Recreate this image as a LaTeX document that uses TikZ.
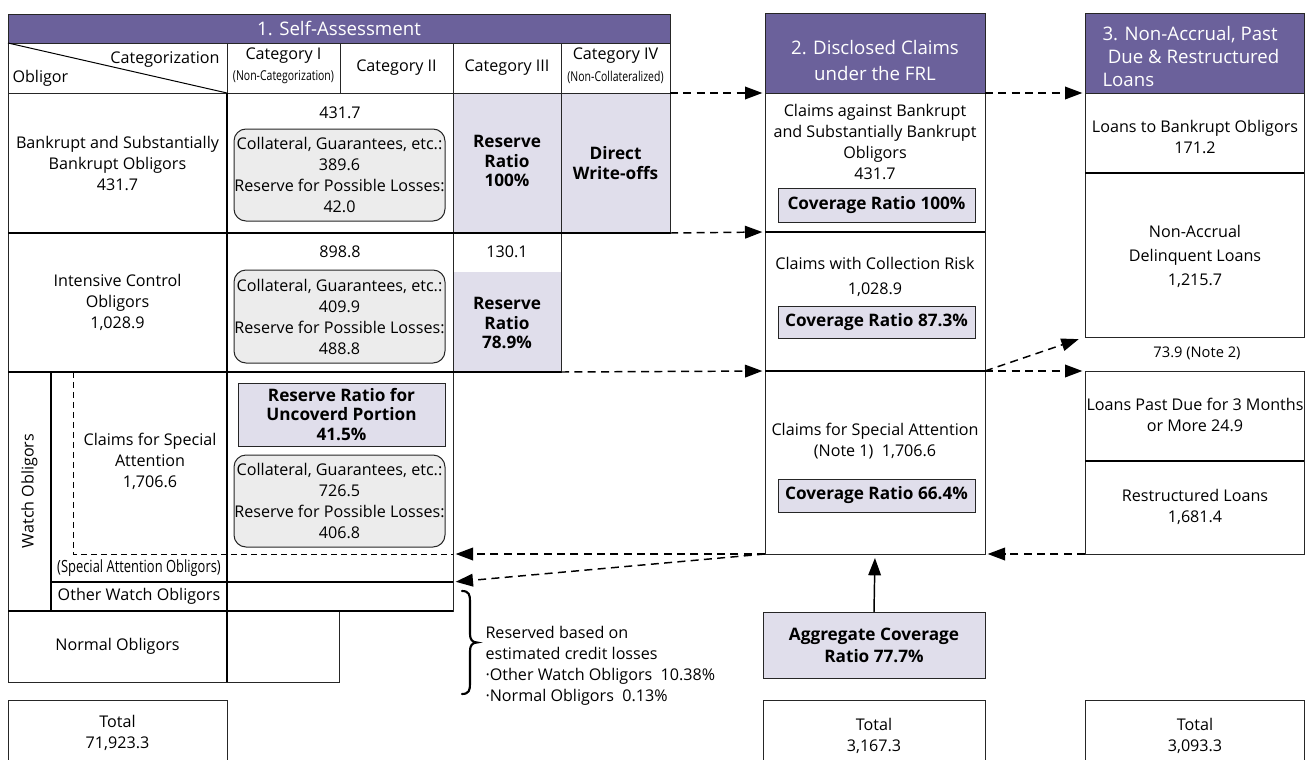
\documentclass[tikz,border=0pt]{standalone}
\usepackage{fontspec}
\setmainfont{Open Sans}
\newfontfamily\narrowfont[FakeStretch=0.77]{Open Sans}
\usetikzlibrary{arrows.meta}

\definecolor{hdrpurple}{RGB}{107,97,155}
\definecolor{paleviolet}{RGB}{224,222,235}
\definecolor{softgray}{RGB}{236,236,236}

\tikzset{every picture/.style={line width=0.75pt}}
\tikzset{
  cell/.style={draw=black!85, anchor=north west, inner sep=0pt, outer sep=0pt},
  shadecell/.style={cell, fill=paleviolet},
  hdrcell/.style={cell, fill=hdrpurple},
  roundcell/.style={cell, fill=softgray, rounded corners=9pt},
  txt/.style={align=center, inner sep=0pt, font=\fontsize{12.1}{15.75}\selectfont},
  boldtxt/.style={txt, font=\fontsize{12.9}{14.5}\selectfont\bfseries},
  hdrtxt/.style={align=center, inner sep=0pt, text=white, font=\fontsize{14}{19.5}\selectfont},
  smalltxt/.style={inner sep=0pt, font=\narrowfont\fontsize{10.2}{11}\selectfont},
  rule/.style={line width=2pt},
  link/.style={dash pattern=on 6pt off 4pt, line width=1.1pt, -{Triangle[length=13pt,width=9.5pt]}, shorten >=2pt}
}

\begin{document}
\begin{tikzpicture}[x=0.75pt,y=0.75pt,yscale=-1,xscale=1]
\useasboundingbox (0,0) rectangle (1306,760);
\begin{scope}
\clip (0,0) rectangle (1306,760);

%Shape: Rectangle -- 1. Self-Assessment
\node[hdrcell, minimum width=496.5pt, minimum height=21.75pt] (hdr1) at (8,14) {};
\node[hdrtxt] (hdr1t) at (339,28.5) {1. Self-Assessment};

%Shape: Rectangle -- category header row
\node[cell, minimum width=164.25pt, minimum height=37.5pt] (c0) at (8,43) {};
\node[cell, minimum width=84.75pt, minimum height=37.5pt] (c1) at (227,43) {};
\node[cell, minimum width=84.75pt, minimum height=37.5pt] (c2) at (340,43) {};
\node[cell, minimum width=81pt, minimum height=37.5pt] (c3) at (453,43) {};
\node[cell, minimum width=81.75pt, minimum height=37.5pt] (c4) at (561,43) {};
\draw (c0.north west) -- (c0.south east);
% Text Node
\node[txt, anchor=east] (catg) at (220,60) {Categorization};
\node[txt, anchor=west] (oblg) at (12,78) {Obligor};
\node[txt] (c1t) at (283.5,56) {Category I};
\node[smalltxt] (c1s) at (283.5,77) {(Non-Categorization)};
\node[txt] (c2t) at (396.5,68) {Category II};
\node[txt] (c3t) at (507,68) {Category III};
\node[txt] (c4t) at (615.5,56) {Category IV};
\node[smalltxt] (c4s) at (615.5,77) {(Non-Collateralized)};

%Shape: Rectangle -- bankrupt row
\node[cell, minimum width=164.25pt, minimum height=105pt] (r1c0) at (8,93) {};
\node[cell, minimum width=169.5pt, minimum height=105pt] (r1c12) at (227,93) {};
\node[shadecell, minimum width=81pt, minimum height=105pt] (r1c3) at (453,93) {};
\node[shadecell, minimum width=81.75pt, minimum height=105pt] (r1c4) at (561,93) {};
\node[roundcell, minimum width=158.25pt, minimum height=69pt] (rb1) at (234,129) {};
% Text Node
\node[txt] (r1c0t) at (117.5,163) {Bankrupt and Substantially\\Bankrupt Obligors\\431.7};
\node[txt] (r1amt) at (340,113) {431.7};
\node[txt] (rb1t) at (339.5,175) {Collateral, Guarantees, etc.:\\389.6\\Reserve for Possible Losses:\\42.0};
\node[boldtxt] (r1c3t) at (507,161) {Reserve\\Ratio\\100\%};
\node[boldtxt] (r1c4t) at (615.5,163) {Direct\\Write-offs};

%Shape: Rectangle -- intensive control row
\node[cell, minimum width=164.25pt, minimum height=104.25pt] (r2c0) at (8,233) {};
\node[cell, minimum width=169.5pt, minimum height=104.25pt] (r2c12) at (227,233) {};
\node[cell, draw=none, fill=paleviolet, minimum width=81pt, minimum height=75pt] (r2sh) at (453,272) {};
\node[cell, minimum width=81pt, minimum height=104.25pt] (r2c3) at (453,233) {};
\node[roundcell, minimum width=158.25pt, minimum height=69.75pt] (rb2) at (234,270) {};
% Text Node
\node[txt] (r2c0t) at (117.5,302) {Intensive Control\\Obligors\\1,028.9};
\node[txt] (r2amt) at (340,252) {898.8};
\node[txt] (rb2t) at (339.5,316.5) {Collateral, Guarantees, etc.:\\409.9\\Reserve for Possible Losses:\\488.8};
\node[txt] (r2c3amt) at (507,252) {130.1};
\node[boldtxt] (r2c3t) at (507,323) {Reserve\\Ratio\\78.9\%};

%Shape: Rectangle -- watch obligors
\node[cell, minimum width=32.25pt, minimum height=179.25pt] (watch) at (8,372) {};
\node[cell, minimum width=132pt, minimum height=157.5pt] (sp) at (51,372) {};
\node[cell, minimum width=169.5pt, minimum height=157.5pt] (spc) at (227,372) {};
\node[cell, minimum width=132pt, minimum height=21.75pt] (ow) at (51,582) {};
\node[cell, minimum width=169.5pt, minimum height=21.75pt] (owc) at (227,582) {};
\node[shadecell, minimum width=155.25pt, minimum height=47.25pt] (ur) at (238,383) {};
\node[roundcell, minimum width=158.25pt, minimum height=69pt] (rb3) at (234,455) {};
\coordinate (sptop) at (73,372);
\coordinate (spend) at (453,554);
\draw[dash pattern=on 4.5pt off 3pt] (sptop) |- (spend);
% Text Node
\node[txt, rotate=90] (watcht) at (29.5,491) {Watch Obligors};
\node[txt] (spt) at (150,461) {Claims for Special\\Attention\\1,706.6};
\node[boldtxt] (urt) at (341.5,414.5) {Reserve Ratio for\\Uncoverd Portion\\41.5\%};
\node[txt] (rb3t) at (339.5,501) {Collateral, Guarantees, etc.:\\726.5\\Reserve for Possible Losses:\\406.8};
\node[smalltxt, font=\narrowfont\fontsize{12.6}{13}\selectfont] (spo) at (139,568) {(Special Attention Obligors)};
\node[txt] (owt) at (139,596.5) {Other Watch Obligors};

%Shape: Rectangle -- normal obligors and total
\node[cell, minimum width=164.25pt, minimum height=53.25pt] (norm) at (8,611) {};
\node[cell, minimum width=84pt, minimum height=53.25pt] (normc) at (227,611) {};
\node[cell, minimum width=164.25pt, minimum height=56.25pt] (tot1) at (8,700) {};
% Text Node
\node[txt] (normt) at (117.5,646.5) {Normal Obligors};
\node[txt] (tot1t) at (117.5,733) {Total\\71,923.3};

% thick rules
\draw[rule] (r1c0.south west) -- (r1c4.south east);
\draw[rule] (r2c0.south west) -- (r2c3.south east);
\draw[rule] (ow.north west) -- (owc.north east);
\draw[rule] (watch.south west) -- (owc.south east);
\draw[rule] (r1c12.north west) -- (normc.south west);
\draw[rule] (sp.north west) -- (ow.south west);

%Shape: Brace
\draw[line width=1.6pt, line cap=round] (462,591) .. controls (469,591) and (470,595) .. (470,601) -- (470,634) .. controls (470,639) and (472,642.5) .. (477,642.5) .. controls (472,642.5) and (470,646) .. (470,651) -- (470,684) .. controls (470,690) and (469,694) .. (462,694);
% Text Node
\node[txt, align=left, anchor=west] (bracet) at (485,665.5) {Reserved based on\\estimated credit losses\\·Other Watch Obligors\ \ 10.38\%\\·Normal Obligors\ \ 0.13\%};

%Shape: Rectangle -- 2. Disclosed Claims
\node[hdrcell, minimum width=165pt, minimum height=60pt] (hdr2) at (765,13) {};
\node[cell, minimum width=165pt, minimum height=104.25pt] (d1) at (765,93) {};
\node[cell, minimum width=165pt, minimum height=104.25pt] (d2) at (765,232) {};
\node[cell, minimum width=165pt, minimum height=137.25pt] (d3) at (765,371) {};
\node[shadecell, minimum width=147.75pt, minimum height=25.5pt] (cov1) at (778,188) {};
\node[shadecell, minimum width=147.75pt, minimum height=24pt] (cov2) at (778,306) {};
\node[shadecell, minimum width=147.75pt, minimum height=24.75pt] (cov3) at (778,479) {};
\node[shadecell, minimum width=166.5pt, minimum height=49.5pt] (agg) at (763,612) {};
\node[cell, minimum width=166.5pt, minimum height=56.25pt] (tot2) at (763,700) {};
\draw[rule] (d2.north west) -- (d2.north east);
\draw[rule] (d3.north west) -- (d3.north east);
% Text Node
\node[hdrtxt] (hdr2t) at (875,60) {2. Disclosed Claims\\under the FRL};
\node[txt] (d1t) at (875,142) {Claims against Bankrupt\\and Substantially Bankrupt\\Obligors\\431.7};
\node[boldtxt] (cov1t) at (876.5,205) {Coverage Ratio 100\%};
\node[txt] (d2t) at (875,263) {Claims with Collection Risk};
\node[txt] (d2amt) at (875,290) {1,028.9};
\node[boldtxt] (cov2t) at (876.5,322) {Coverage Ratio 87.3\%};
\node[txt] (d3t) at (875,441) {Claims for Special Attention\\(Note 1)\ \ 1,706.6};
\node[boldtxt] (cov3t) at (876.5,495.5) {Coverage Ratio 66.4\%};
\node[boldtxt, font=\fontsize{12.9}{16.5}\selectfont\bfseries] (aggt) at (874,645) {Aggregate Coverage\\Ratio 77.7\%};
\node[txt] (tot2t) at (874,736) {Total\\3,167.3};

%Shape: Rectangle -- 3. Non-Accrual, Past Due & Restructured Loans
\node[hdrcell, minimum width=164.25pt, minimum height=60pt] (hdr3) at (1085,13) {};
\node[cell, minimum width=164.25pt, minimum height=60pt] (n1) at (1085,93) {};
\node[cell, minimum width=164.25pt, minimum height=123pt] (n2) at (1085,173) {};
\node[cell, minimum width=164.25pt, minimum height=67.5pt] (n3) at (1085,371) {};
\node[cell, minimum width=164.25pt, minimum height=69.75pt] (n4) at (1085,461) {};
\node[cell, minimum width=164.25pt, minimum height=56.25pt] (tot3) at (1085,700) {};
\draw[rule] (n2.north west) -- (n2.north east);
\draw[rule] (n4.north west) -- (n4.north east);
% Text Node
\node[hdrtxt, align=left, anchor=west, font=\fontsize{14}{17.25}\selectfont] (hdr3t) at (1102,56) {3. Non-Accrual, Past\\\hspace*{4pt}Due \& Restructured\\Loans};
\node[txt] (n1t) at (1195,136.5) {Loans to Bankrupt Obligors\\171.2};
\node[txt, font=\fontsize{12.1}{18}\selectfont] (n2t) at (1195,256) {Non-Accrual\\Delinquent Loans\\1,215.7};
\node[txt, font=\fontsize{11}{12}\selectfont] (note2) at (1197,353) {73.9 (Note 2)};
\node[txt] (n3t) at (1195,415) {Loans Past Due for 3 Months\\or More 24.9};
\node[txt] (n4t) at (1195,507) {Restructured Loans\\1,681.4};
\node[txt] (tot3t) at (1195,736) {Total\\3,093.3};

% connectors
\draw[link] (c4.south east) -- (d1.north west);
\draw[link] (d1.north east) -- (n1.north west);
\draw[link] (r1c4.south east) -- (d2.north west);
\draw[link] (r2c3.south east) -- (d3.north west);
\draw[link] (d3.north east) -- (n3.north west);
\draw[link, shorten >=5pt] (d3.north east) -- (n2.south west);
\draw[link] (n4.south west) -- (d3.south east);
\draw[link] (d3.south west) -- (spend);
\draw[link] (d3.south west) -- (owc.north east);
\draw[-{Triangle[length=13pt,width=9.5pt]}, line width=1.1pt, shorten >=3pt] (agg.north) -- (d3.south);
\end{scope}
\end{tikzpicture}
\end{document}
